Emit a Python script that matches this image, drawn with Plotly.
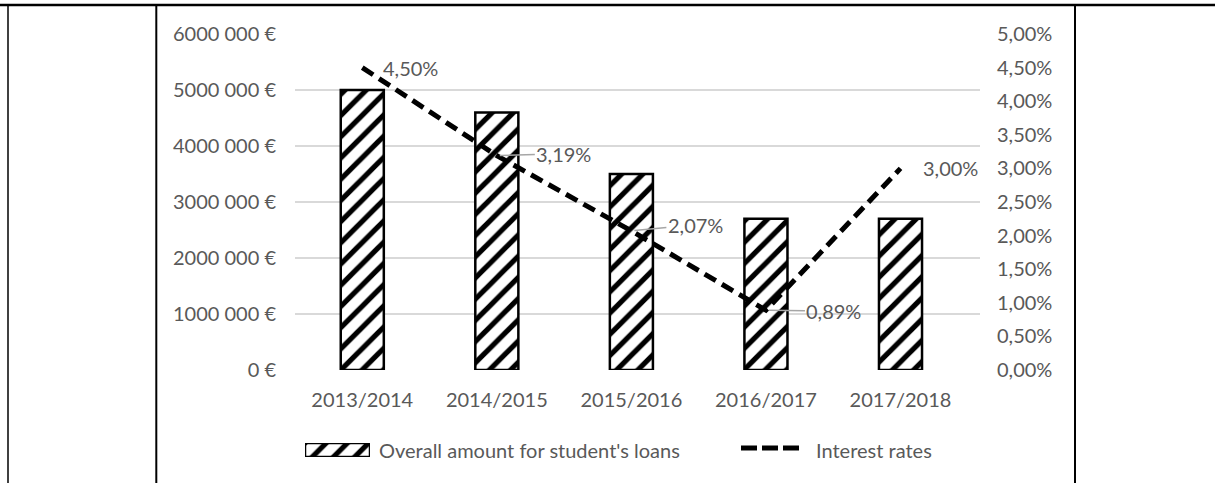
import plotly.graph_objects as go

W, H = 1215, 483

categories = ["2013/2014", "2014/2015", "2015/2016", "2016/2017", "2017/2018"]
loan_amounts = [5000000, 4600000, 3500000, 2700000, 2700000]
interest_rates = [0.045, 0.0319, 0.0207, 0.0089, 0.0300]
rate_labels = ["4,50%", "3,19%", "2,07%", "0,89%", "3,00%"]

left_tickvals = [0, 1000000, 2000000, 3000000, 4000000, 5000000, 6000000]
left_ticktext = ["0 €", "1000 000 €", "2000 000 €", "3000 000 €", "4000 000 €", "5000 000 €", "6000 000 €"]
right_tickvals = [0, 0.005, 0.01, 0.015, 0.02, 0.025, 0.03, 0.035, 0.04, 0.045, 0.05]
right_ticktext = ["0,00%", "0,50%", "1,00%", "1,50%", "2,00%", "2,50%", "3,00%", "3,50%", "4,00%", "4,50%", "5,00%"]

bar_name = "Overall amount for student's loans"
line_name = "Interest rates"

FONT = "Lato"
GREY = "#595959"
FS = 20

def px_x(p):
    return p / W

def px_y(p):
    return 1 - p / H

hatch = dict(shape="/", fgcolor="black", fgopacity=1, bgcolor="white", size=15,
             solidity=0.35, fillmode="replace")
dash_style = "13px,7px"

fig = go.Figure()

fig.add_trace(go.Bar(
    x=categories, y=loan_amounts, name=bar_name,
    marker=dict(color="white", pattern=hatch, line=dict(color="black", width=2.5)),
    width=0.32, xaxis="x", yaxis="y", showlegend=False, hoverinfo="skip",
))

fig.add_trace(go.Scatter(
    x=categories, y=interest_rates, name=line_name, mode="lines",
    line=dict(color="black", width=5, dash=dash_style),
    xaxis="x", yaxis="y2", showlegend=False, hoverinfo="skip",
))

# custom legend swatches
fig.add_trace(go.Bar(
    x=[1], y=[0], orientation="h", base=0, width=1,
    marker=dict(color="white", pattern=hatch, line=dict(color="black", width=2.5)),
    xaxis="x3", yaxis="y3", showlegend=False, hoverinfo="skip",
))
fig.add_trace(go.Scatter(
    x=[0, 1], y=[0, 0], mode="lines",
    line=dict(color="black", width=5, dash="16px,5px"),
    xaxis="x4", yaxis="y4", showlegend=False, hoverinfo="skip",
))

annotations = []
label_cfg = [
    dict(showarrow=False, xshift=48, yshift=0),
    dict(showarrow=True, ax=67, ay=-2),
    dict(showarrow=True, ax=64, ay=-6),
    dict(showarrow=True, ax=68, ay=1),
    dict(showarrow=False, xshift=50, yshift=0),
]
for cat, val, lab, cfg in zip(categories, interest_rates, rate_labels, label_cfg):
    a = dict(x=cat, y=val, xref="x", yref="y2", text=lab,
             font=dict(family=FONT, size=FS, color=GREY))
    if cfg["showarrow"]:
        a.update(showarrow=True, ax=cfg["ax"], ay=cfg["ay"], arrowhead=0,
                 arrowcolor="#a6a6a6", arrowwidth=1.5, standoff=3)
    else:
        a.update(showarrow=False, xshift=cfg["xshift"], yshift=cfg["yshift"])
    annotations.append(a)

annotations.append(dict(x=px_x(377), y=px_y(450), xref="paper", yref="paper",
                        text=bar_name, showarrow=False, xanchor="left", yanchor="middle",
                        font=dict(family=FONT, size=FS, color=GREY)))
annotations.append(dict(x=px_x(814), y=px_y(450), xref="paper", yref="paper",
                        text=line_name, showarrow=False, xanchor="left", yanchor="middle",
                        font=dict(family=FONT, size=FS, color=GREY)))

shapes = [
    dict(type="line", xref="paper", yref="paper", x0=0, x1=1, y0=px_y(5), y1=px_y(5),
         line=dict(color="black", width=2.5)),
    dict(type="line", xref="paper", yref="paper", x0=px_x(8), x1=px_x(8), y0=px_y(5), y1=0,
         line=dict(color="black", width=1.5)),
    dict(type="line", xref="paper", yref="paper", x0=px_x(156.3), x1=px_x(156.3), y0=px_y(5), y1=0,
         line=dict(color="black", width=2)),
    dict(type="line", xref="paper", yref="paper", x0=px_x(1075), x1=px_x(1075), y0=px_y(5), y1=0,
         line=dict(color="black", width=2)),
]

fig.update_layout(
    width=W, height=H,
    margin=dict(l=0, r=0, t=0, b=0, pad=0, autoexpand=False),
    paper_bgcolor="white", plot_bgcolor="white",
    font=dict(family=FONT, size=FS, color=GREY),
    bargap=0.68,
    showlegend=False,
    xaxis=dict(domain=[px_x(295), px_x(980)], type="category", showgrid=False,
               showline=False, zeroline=False, ticks="", ticklabelstandoff=16,
               automargin=False,
               tickfont=dict(family=FONT, size=FS, color=GREY), anchor="y"),
    yaxis=dict(domain=[px_y(370), px_y(34)], range=[0, 6000000],
               tickvals=left_tickvals, ticktext=left_ticktext,
               showgrid=True, gridcolor="#d9d9d9", gridwidth=1.3,
               zeroline=False, showline=False, ticks="", ticklabelstandoff=18,
               automargin=False,
               tickfont=dict(family=FONT, size=FS, color=GREY), anchor="x"),
    yaxis2=dict(overlaying="y", side="right", range=[0, 0.05],
                tickvals=right_tickvals, ticktext=right_ticktext,
                showgrid=False, zeroline=False, showline=False, ticks="",
                ticklabelstandoff=16, anchor="x", automargin=False,
                tickfont=dict(family=FONT, size=FS, color=GREY)),
    xaxis3=dict(domain=[px_x(305), px_x(370)], range=[0, 1], visible=False,
                fixedrange=True, anchor="y3", automargin=False),
    yaxis3=dict(domain=[px_y(457), px_y(443)], range=[-0.5, 0.5], visible=False,
                fixedrange=True, anchor="x3", automargin=False),
    xaxis4=dict(domain=[px_x(741), px_x(802)], range=[0, 1], visible=False,
                fixedrange=True, anchor="y4", automargin=False),
    yaxis4=dict(domain=[px_y(458), px_y(438)], range=[-1, 1], visible=False,
                fixedrange=True, anchor="x4", automargin=False),
    annotations=annotations,
    shapes=shapes,
)

fig.write_html("out.html",
               config={"displayModeBar": False, "staticPlot": True},
               post_script="document.body.style.margin='0';document.body.style.overflow='hidden';")
